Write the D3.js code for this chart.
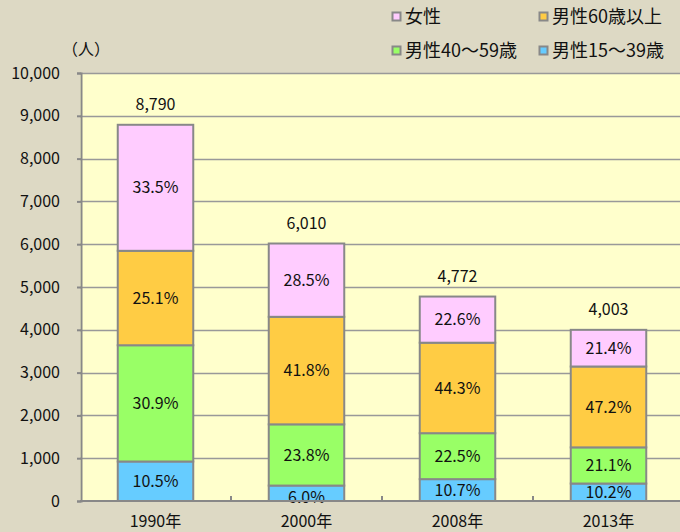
<!DOCTYPE html>
<html>
<head>
<meta charset="utf-8">
<script src="https://cdn.jsdelivr.net/npm/d3@7"></script>
<style>
  body { margin: 0; background: #DDD9C4; }
  svg { display: block; font-family: "Noto Sans CJK JP", "Noto Sans", sans-serif; }
</style>
</head>
<body>
<div id="chart-area"></div>
<script>
// Data
const years = ["1990年", "2000年", "2008年", "2013年"];
const totals = [8790, 6010, 4772, 4003];
const seriesNames = ["男性15～39歳", "男性40～59歳", "男性60歳以上", "女性"];
const seriesColors = ["#66CCFF", "#99FF66", "#FFCC44", "#FFCCFF"];
// percentage share per series (bottom to top), per year
const pct15_39 = [10.5, 6.0, 10.7, 10.2];
const pct40_59 = [30.9, 23.8, 22.5, 21.1];
const pct60 = [25.1, 41.8, 44.3, 47.2];
const pctFemale = [33.5, 28.5, 22.6, 21.4];
const yTicks = [0, 1000, 2000, 3000, 4000, 5000, 6000, 7000, 8000, 9000, 10000];

const pctSeries = [pct15_39, pct40_59, pct60, pctFemale];

// Dimensions
const W = 680, H = 532;
const plot = { left: 80, right: 684, top: 73, bottom: 501 };

const svg = d3.select("#chart-area")
  .append("svg")
    .attr("width", W)
    .attr("height", H);

svg.append("rect")
  .attr("width", W).attr("height", H)
  .attr("fill", "#DDD9C4");

// scales
const x = d3.scaleBand()
  .domain(years)
  .range([plot.left, plot.right])
  .paddingInner(0.5)
  .paddingOuter(0.25);

const y = d3.scaleLinear()
  .domain([0, 10000])
  .range([plot.bottom, plot.top]);

// plot background
svg.append("rect")
  .attr("x", plot.left).attr("y", plot.top)
  .attr("width", plot.right - plot.left)
  .attr("height", plot.bottom - plot.top)
  .attr("fill", "#FFFFCC");

// gridlines
svg.append("g")
  .selectAll("line")
  .data(yTicks.filter(d => d > 0))
  .join("line")
    .attr("x1", plot.left).attr("x2", plot.right)
    .attr("y1", d => Math.round(y(d)) + 0.5)
    .attr("y2", d => Math.round(y(d)) + 0.5)
    .attr("stroke", "#999")
    .attr("stroke-width", 1.5);

// stacked data
const rows = years.map((yr, i) => {
  const r = { year: yr, total: totals[i] };
  seriesNames.forEach((s, k) => { r[s] = totals[i] * pctSeries[k][i] / 100; });
  return r;
});
const stacked = d3.stack().keys(seriesNames)(rows);

const layers = svg.append("g")
  .selectAll("g")
  .data(stacked)
  .join("g")
    .attr("fill", (d, k) => seriesColors[k]);

layers.selectAll("rect")
  .data(d => d)
  .join("rect")
    .attr("x", d => x(d.data.year))
    .attr("y", d => y(d[1]))
    .attr("width", x.bandwidth())
    .attr("height", d => y(d[0]) - y(d[1]))
    .attr("stroke", "#888")
    .attr("stroke-width", 2);

// percentage labels
stacked.forEach((layer, k) => {
  svg.append("g")
    .selectAll("text")
    .data(layer)
    .join("text")
      .attr("x", d => x(d.data.year) + x.bandwidth() / 2)
      .attr("y", (d, i) => (y(d[0]) + y(d[1])) / 2 + (pctSeries[k][i] < 8 ? 4 : 0))
      .attr("dy", "0.35em")
      .attr("text-anchor", "middle")
      .attr("font-size", "16px")
      .attr("fill", "#111")
      .text((d, i) => pctSeries[k][i].toFixed(1) + "%");
});

// totals
svg.append("g")
  .selectAll("text")
  .data(rows)
  .join("text")
    .attr("x", d => x(d.year) + x.bandwidth() / 2)
    .attr("y", d => y(d.total) - 20)
    .attr("dy", "0.35em")
    .attr("text-anchor", "middle")
    .attr("font-size", "16px")
    .attr("fill", "#111")
    .text(d => d3.format(",")(d.total));

// y axis
const yAxis = svg.append("g")
  .attr("transform", "translate(" + (plot.left + 1) + ",0)")
  .call(d3.axisLeft(y).tickValues(yTicks).tickFormat(d3.format(",")).tickSize(4).tickPadding(17));
yAxis.selectAll("path, line").attr("stroke", "#888").attr("stroke-width", 2);
yAxis.selectAll("text").attr("font-size", "16px").attr("fill", "#111")
  .attr("font-family", "Noto Sans CJK JP, sans-serif");

// x axis
svg.append("line")
  .attr("x1", plot.left).attr("x2", plot.right)
  .attr("y1", plot.bottom).attr("y2", plot.bottom)
  .attr("stroke", "#888").attr("stroke-width", 2);
svg.append("g")
  .selectAll("line")
  .data(years.slice(1))
  .join("line")
    .attr("x1", d => x(d) - x.step() * x.paddingInner() / 2)
    .attr("x2", d => x(d) - x.step() * x.paddingInner() / 2)
    .attr("y1", plot.bottom)
    .attr("y2", plot.bottom - 5)
    .attr("stroke", "#888").attr("stroke-width", 2);
svg.append("g")
  .selectAll("text")
  .data(years)
  .join("text")
    .attr("x", d => x(d) + x.bandwidth() / 2)
    .attr("y", 527)
    .attr("text-anchor", "middle")
    .attr("font-size", "16px")
    .attr("fill", "#111")
    .text(d => d);

// unit label
svg.append("text")
  .attr("x", 86).attr("y", 49)
  .attr("dy", "0.35em")
  .attr("text-anchor", "middle")
  .attr("font-size", "16px")
  .attr("fill", "#111")
  .text("（人）");

// legend
const legendItems = [
  { name: "女性", k: 3, x: 396.5, y: 16.5 },
  { name: "男性60歳以上", k: 2, x: 543.5, y: 16.5 },
  { name: "男性40～59歳", k: 1, x: 396.5, y: 50.5 },
  { name: "男性15～39歳", k: 0, x: 543.5, y: 50.5 }
];
const legend = svg.append("g")
  .selectAll("g")
  .data(legendItems)
  .join("g")
    .attr("transform", d => "translate(" + d.x + "," + d.y + ")");
legend.append("rect")
  .attr("x", -4).attr("y", -4)
  .attr("width", 8).attr("height", 8)
  .attr("fill", d => seriesColors[d.k])
  .attr("stroke", "#888").attr("stroke-width", 2);
legend.append("text")
  .attr("x", 8.5)
  .attr("dy", "0.35em")
  .attr("font-size", "18px")
  .attr("fill", "#111")
  .text(d => d.name);
</script>
</body>
</html>
